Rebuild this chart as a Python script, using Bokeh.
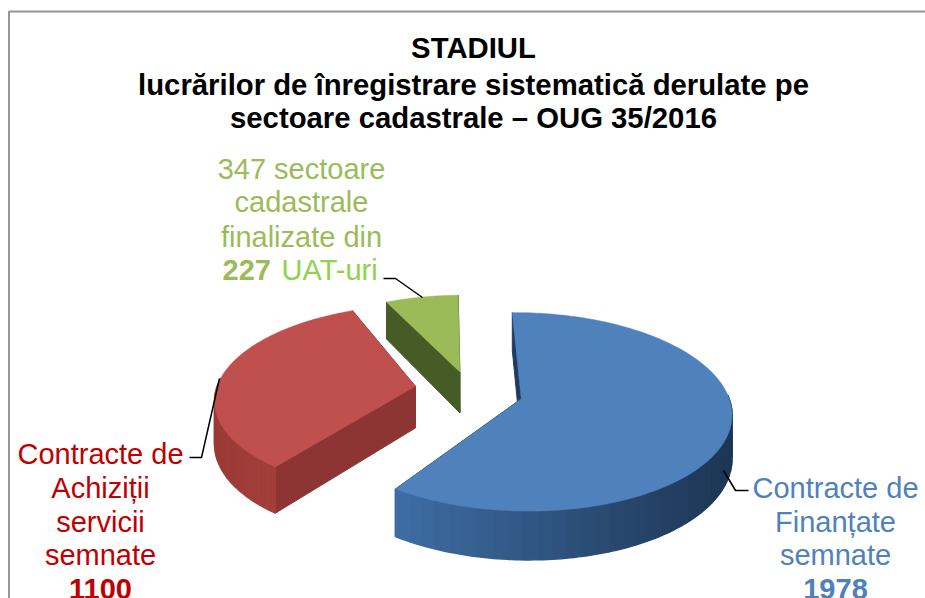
import numpy as np
from bokeh.plotting import figure
from bokeh.models import Range1d
from bokeh.core.properties import value
from bokeh.embed import file_html
from bokeh.resources import INLINE

# data
categories = ["Contracte de Finanțate semnate", "Contracte de Achiziții servicii semnate", "UAT-uri finalizate"]
values = [1978, 1100, 227]
top_colors = ["#4f81bd", "#c0504d", "#9bbb59"]
wall_near = ["#3f6ea6", "#b0433f", "#4f6a2c"]
wall_far = ["#1d3654", "#9a3a37", "#4f6a2c"]
radial_colors = ["#1f3b5e", "#8c3533", "#465c26"]

FONT = "Liberation Sans"
W, H = 925, 598
p = figure(width=W, height=H, x_range=Range1d(0, W), y_range=Range1d(H, 0),
           toolbar_location=None, output_backend="svg", min_border=0, outline_line_color=None)
p.axis.visible = False
p.grid.visible = False

# projection of the tilted pie
CX, Y0, A, B, K, DEPTH = 471.0, 391.4, 206.0, 95.7, 0.13, 42.0
START = -1.0
EXPL = [0.25, 0.25, 0.25]
NUDGE = [(0.0, 0.0), (-0.025, 0.04), (0.0, -0.03)]
RADIUS = [1.0, 0.97, 0.95]
TWIST = [0.0, 3.0, 0.0]


def proj(X, Y, z=0.0):
    den = 1 + K * Y
    return CX + A * X / den, Y0 - B * Y / den + z / den


def mix(c1, c2, t):
    a = [int(c1[i:i + 2], 16) for i in (1, 3, 5)]
    b = [int(c2[i:i + 2], 16) for i in (1, 3, 5)]
    return "#%02x%02x%02x" % tuple(int(round(x + (y - x) * t)) for x, y in zip(a, b))


total = sum(values)
angles = np.cumsum([0] + [v / total * 360 for v in values]) + START
for i in [2, 1, 0]:
    t0, t1 = angles[i] + TWIST[i], angles[i + 1] + TWIST[i]
    mid = np.radians((angles[i] + angles[i + 1]) / 2)
    ex = EXPL[i] * np.sin(mid) + NUDGE[i][0]
    ey = EXPL[i] * np.cos(mid) + NUDGE[i][1]
    th = np.radians(np.linspace(t0, t1, 200))
    RX, RY = ex + RADIUS[i] * np.sin(th), ey + RADIUS[i] * np.cos(th)
    cxp, cyp = proj(ex, ey)
    cxb, cyb = proj(ex, ey, DEPTH)
    tx, ty = proj(RX, RY)
    bx, by = proj(RX, RY, DEPTH)
    # radial walls
    p.patch([tx[0], cxp, cxb, bx[0]], [ty[0], cyp, cyb, by[0]], fill_color=radial_colors[i], line_color=radial_colors[i])
    p.patch([tx[-1], cxp, cxb, bx[-1]], [ty[-1], cyp, cyb, by[-1]], fill_color=radial_colors[i], line_color=radial_colors[i])
    # rim wall, shaded by overlapping segments
    seg = 60
    idx = np.linspace(0, len(th) - 1, seg + 1).astype(int)
    xmin, xmax = tx.min(), tx.max()
    for a, b in zip(idx[:-1], idx[1:]):
        if np.cos(th[a]) > 0.05 or i == 2:
            continue
        t = (tx[a] - xmin) / max(xmax - xmin, 1)
        if i == 1:
            t = 1 - t
        c = mix(wall_near[i], wall_far[i], t)
        xs = list(tx[a:b + 1]) + list(bx[a:b + 1][::-1])
        ys = list(ty[a:b + 1]) + list(by[a:b + 1][::-1])
        p.patch(xs, ys, fill_color=c, line_color=c, line_width=1.5)
    # top face
    p.patch(list(tx) + [cxp], list(ty) + [cyp], fill_color=top_colors[i], line_color=top_colors[i], line_width=0.5)

# frame
p.line([8.5, 8.5, 925], [598, 11, 11], line_color="#969696", line_width=2)

# leaders
for xs, ys in [([422, 395, 383], [297, 278, 278]),
               ([219, 201, 189], [378, 457, 457]),
               ([723, 735, 748], [470, 490, 490])]:
    p.line(xs, ys, line_color="black", line_width=1.5)


def txt(x, y, s, color, size, bold=False, align="center"):
    p.text([x], [y], text=[s], text_color=color, text_font=value(FONT),
           text_font_size=size, text_font_style="bold" if bold else "normal",
           text_align=align, text_baseline="alphabetic")


TS = "29.3px"
txt(473, 47, "STADIUL", "black", TS, True)
txt(473, 84, "lucrărilor de înregistrare sistematică derulate pe", "black", TS, True)
txt(473, 117, "sectoare cadastrale – OUG 35/2016", "black", TS, True)

LS = "29px"
GREEN, RED, BLUE = "#9bbb59", "#c00000", "#4f81bd"
for y, s in [(168, "347 sectoare"), (201, "cadastrale"), (236, "finalizate din")]:
    txt(301, y, s, GREEN, LS)
txt(222, 269, "227", GREEN, LS, True, "left")
txt(281, 269, "UAT-uri", "#92d050", LS, False, "left")
for y, s in [(453, "Contracte de"), (487, "Achiziții"), (521, "servicii"), (554, "semnate")]:
    txt(100, y, s, RED, LS)
txt(100, 588, "1100", RED, LS, True)
for y, s in [(487, "Contracte de"), (521, "Finanțate"), (554, "semnate")]:
    txt(835, y, s, BLUE, LS)
txt(835, 588, "1978", BLUE, LS, True)

open("out.html", "w").write(file_html(p, INLINE))
